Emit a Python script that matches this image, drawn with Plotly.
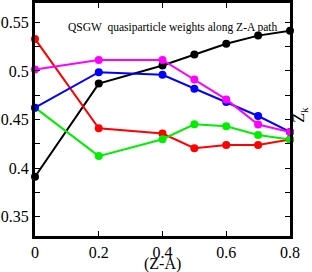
import plotly.graph_objects as go

x_vals = [0, 0.2, 0.4, 0.5, 0.6, 0.7, 0.8]
black = [0.391, 0.487, 0.5056, 0.5169, 0.528, 0.5364, 0.5415]
red = [0.533, 0.441, 0.4355, 0.4205, 0.4238, 0.4238, 0.4294]
green = [0.4622, 0.4123, 0.4297, 0.445, 0.443, 0.434, 0.4294]
blue = [0.4622, 0.4987, 0.496, 0.4817, 0.468, 0.4536, 0.4372]
magenta = [0.5015, 0.5114, 0.5114, 0.4912, 0.4707, 0.4448, 0.437]

series = [
    ("black", black, "#000000"),
    ("red", red, "#ff0000"),
    ("green", green, "#00ee00"),
    ("blue", blue, "#0000ff"),
    ("magenta", magenta, "#ff00ff"),
]

y_tickvals = [0.35, 0.4, 0.45, 0.5, 0.55]
y_ticktext = ["0.35", "0.4", "0.45", "0.5", "0.55"]
x_tickvals = [0, 0.2, 0.4, 0.6, 0.8]
x_ticktext = ["0", "0.2", "0.4", "0.6", "0.8"]

fig = go.Figure()
for name, ys, col in series:
    fig.add_trace(go.Scatter(
        x=x_vals, y=ys, mode="lines+markers", name=name,
        line=dict(color=col, width=2),
        marker=dict(color=col, size=8),
        cliponaxis=False,
    ))

FONT = "Liberation Serif"
fig.update_layout(
    width=312, height=272,
    margin=dict(l=35, r=22, t=3, b=36),
    paper_bgcolor="white", plot_bgcolor="white",
    showlegend=False,
    font=dict(family=FONT, size=16, color="black"),
)
fig.update_xaxes(
    range=[0, 0.8], tickvals=x_tickvals, ticktext=x_ticktext,
    showgrid=False, zeroline=False, automargin=False,
    showline=True, linewidth=3, linecolor="black", mirror="allticks",
    ticks="inside", ticklen=5, tickwidth=1, tickcolor="black",
    tickfont=dict(family=FONT, size=16),
)
fig.update_yaxes(
    range=[0.33, 0.57], tickvals=y_tickvals, ticktext=y_ticktext,
    showgrid=False, zeroline=False, automargin=False,
    showline=True, linewidth=3, linecolor="black", mirror="allticks",
    ticks="inside", ticklen=5, tickwidth=1, tickcolor="black",
    tickfont=dict(family=FONT, size=16),
    minor=dict(dtick=0.025, tick0=0.35, ticks="inside", ticklen=5, tickwidth=1, tickcolor="black", showgrid=False),
)
fig.add_annotation(
    text="(Z-A)",
    xref="paper", yref="paper", x=0.5, y=0, yshift=-28,
    xanchor="center", yanchor="middle", borderpad=0,
    showarrow=False, font=dict(family=FONT, size=16, color="black"),
)
fig.add_annotation(
    text="QSGW  quasiparticle weights along Z-A path",
    xref="paper", yref="paper", x=0.96, y=0.895, xanchor="right", yanchor="middle",
    showarrow=False, font=dict(family=FONT, size=11.5, color="black"),
)
fig.add_annotation(
    text="Z<sub>k</sub>",
    xref="paper", yref="paper", x=1.0, y=0.52, xshift=10,
    xanchor="center", yanchor="middle", textangle=-90,
    showarrow=False, font=dict(family=FONT, size=16, color="black"),
)
fig.write_html(
    "out.html",
    config={"displayModeBar": False},
    post_script="document.body.style.margin='0';document.body.style.overflow='hidden';",
)
